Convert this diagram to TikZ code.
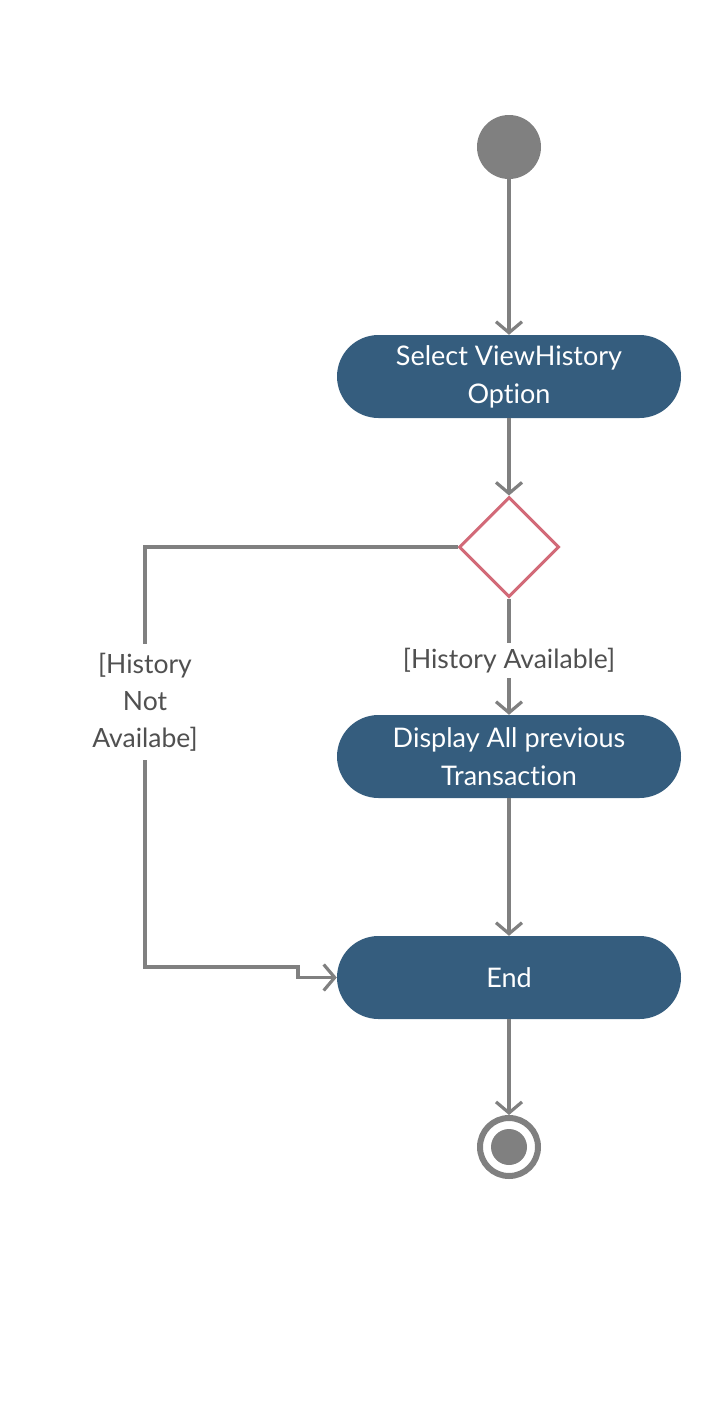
\documentclass[tikz,border=0pt]{standalone}
\usepackage{fontspec}
\setmainfont[Ligatures=NoCommon]{Lato}
\usetikzlibrary{arrows.meta,shapes.geometric}
\definecolor{actfill}{HTML}{355D7E}
\definecolor{linegray}{HTML}{808080}
\definecolor{decred}{HTML}{D26A78}
\definecolor{labtext}{HTML}{505050}
\tikzset{
  action/.style={rectangle, rounded corners=41.5pt, fill=actfill, draw=none,
    minimum width=344pt, minimum height=83pt, text=white, align=center,
    font=\fontsize{27}{38}\selectfont},
  flow/.style={draw=linegray, line width=3.2pt,
    -{Straight Barb[length=11pt,width=26pt,line width=3.2pt]}},
  guard/.style={fill=white, text=labtext, align=center, inner sep=5pt,
    font=\fontsize{26.5}{37}\selectfont},
}
\begin{document}
\begin{tikzpicture}[x=1pt,y=-1pt]
\useasboundingbox (0,0) rectangle (718,1408);
\node[circle, fill=linegray, minimum size=64pt, inner sep=0pt] (start) at (509,147) {};
\node[action] (sel) at (509,376.5) {Select ViewHistory\\Option};
\node[diamond, draw=decred, line width=3pt, fill=white, minimum width=100pt, minimum height=100pt, inner sep=0pt] (dec) at (509,547) {};
\node[action] (disp) at (509,756.5) {Display All previous\\Transaction};
\node[action] (endact) at (509,977.5) {End};
\node[circle, draw=linegray, line width=6pt, minimum size=58pt, inner sep=0pt] (final) at (509,1147) {};
\node[circle, fill=linegray, minimum size=36pt, inner sep=0pt] (finalin) at (509,1147) {};

\draw[flow] (start) -- (sel);
\draw[flow] (sel) -- (dec);
\draw[flow] (dec.south) -- node[guard, pos=0.534] (ga) {[History Available]} (disp);
\draw[flow] (disp) -- (endact);
\draw[flow] (endact) -- (final.north);
\coordinate (c1) at (145,547);
\coordinate (c2) at (145,967);
\coordinate (c3) at (298,967);
\coordinate (c4) at (298,977.5);
\draw[flow] (dec.west) -- (c1) -- (c2) -- (c3) -- (c4) -- (endact.west);
\node[guard, inner sep=9pt] (gn) at (145,702) {[History\\Not\\Availabe]};
\end{tikzpicture}
\end{document}
